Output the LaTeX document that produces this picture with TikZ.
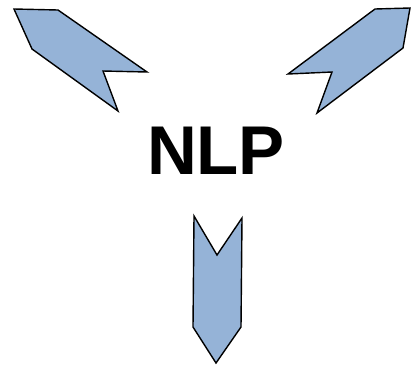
\documentclass[tikz,border=0pt]{standalone}
\usepackage{fontspec}
\setmainfont{Liberation Sans}
\definecolor{chev}{RGB}{149,179,215}
\begin{document}
\begin{tikzpicture}[x=1pt,y=-1pt,
  chevron/.style={fill=chev,draw=black,line width=1.4pt,line join=miter},
  label/.style={font=\bfseries\fontsize{69}{80}\selectfont,inner sep=0pt}]
\useasboundingbox (0,0) rectangle (411,365);
\fill[white] (0,0) rectangle (411,365);
\draw[chevron] (14,9) -- (58,10) -- (147,72) -- (103,71) -- (118,111) -- (32,49) -- cycle;
\draw[chevron] (375,9) -- (410,8) -- (403,48) -- (317,113) -- (332,72) -- (288,74) -- cycle;
\draw[chevron] (194,216) -- (217,255) -- (242,218) -- (241,327) -- (216,363) -- (193,327) -- cycle;
\node[label,anchor=base] (nlp) at (216,174) {NLP};
\end{tikzpicture}
\end{document}
